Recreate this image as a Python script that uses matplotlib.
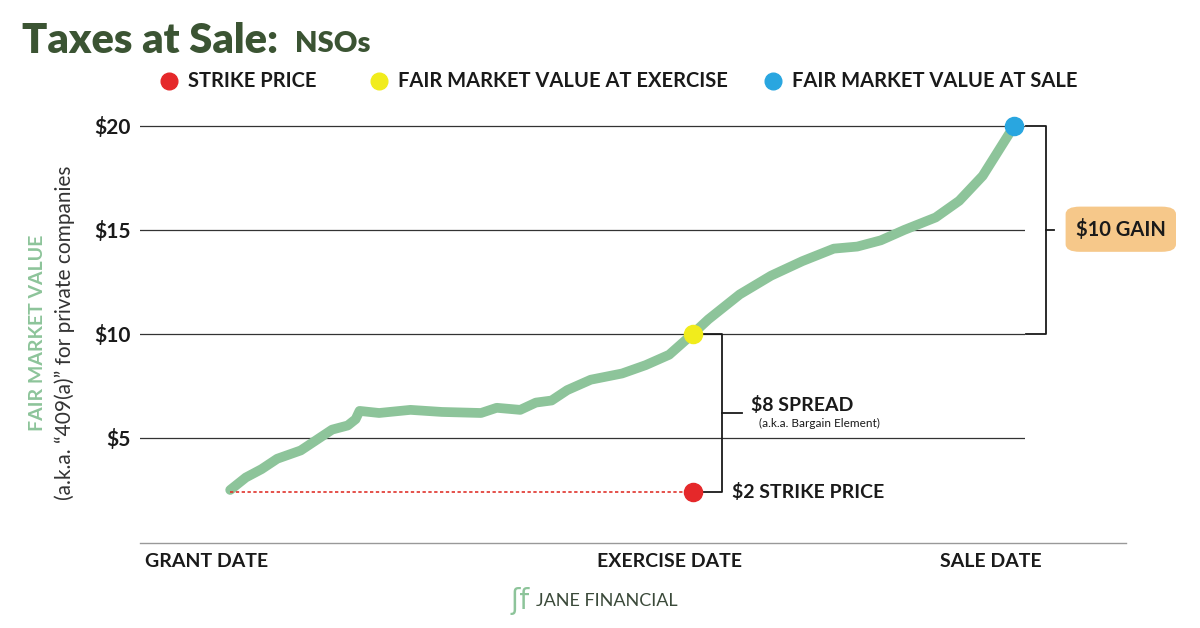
import matplotlib
matplotlib.use('Agg')
import matplotlib.pyplot as plt
from matplotlib.patches import FancyBboxPatch
from matplotlib.lines import Line2D

# timeline: 0 = grant date, 59 = exercise date, 100 = sale date
days = [0, 2, 4, 6, 9, 11, 13, 15, 16, 16.5, 19, 23, 27, 32, 34, 37, 39, 41, 43, 46, 50, 53, 56, 59,
        61, 65, 69, 73, 77, 80, 83, 86, 90, 93, 96, 100]
fmv = [2.5, 3.1, 3.5, 4.0, 4.4, 4.9, 5.4, 5.6, 5.9, 6.3, 6.2, 6.35, 6.25, 6.2, 6.45, 6.35, 6.7, 6.8,
       7.3, 7.8, 8.1, 8.5, 9.0, 10.0, 10.7, 11.9, 12.8, 13.5, 14.1, 14.2, 14.5, 15.0, 15.6, 16.4, 17.6, 20.0]
strike = 2.4
ex_day, sale_day = 59, 100
yticks = [5, 10, 15, 20]
ytick_labels = ['$5', '$10', '$15', '$20']
xticks = [0, 59, 100]
xtick_labels = ['GRANT DATE', 'EXERCISE DATE', 'SALE DATE']

FONT = 'Lato'
DARK = '#1a1a1a'
GREEN = '#8dc49a'
TITLE_GREEN = '#3b5433'

fig = plt.figure(figsize=(12, 6.28), dpi=100)
ax = fig.add_axes([0.1167, 0.137, 0.7375, 0.689])
ax.set_xlim(-11.5, 101.4)
ax.set_ylim(0, 20.8)
for s in ax.spines.values():
    s.set_visible(False)
for y in yticks:
    ax.axhline(y, color='#333333', lw=0.9, zorder=1)
ax.set_yticks(yticks)
ax.set_yticklabels(ytick_labels, fontsize=15, fontweight='bold', fontfamily=FONT, color=DARK)
ax.set_xticks([])
ax.tick_params(axis='y', length=0, pad=7)

ax.plot(days, fmv, color=GREEN, lw=7, solid_capstyle='round', solid_joinstyle='round', zorder=2)
ax.plot([0, ex_day], [strike, strike], color='#e0342c', lw=1.2, ls=(0, (2, 1.5)), zorder=2)
ax.scatter([ex_day], [strike], s=170, color='#e5282a', zorder=4)
ax.scatter([ex_day], [10], s=170, color='#f1ec1c', zorder=4)
ax.scatter([sale_day], [20], s=170, color='#29a6e0', zorder=4)

for x, lab in zip(xticks, xtick_labels):
    ax.text(x - 3, -0.95, lab, ha='center', va='center', fontsize=14, fontweight='bold',
            fontfamily=FONT, color=DARK)

# spread bracket
bx = 62.7
ax.plot([60.2, bx, bx, 60.2], [10, 10, strike, strike], color=DARK, lw=1.3, zorder=3)
ax.plot([bx, 65.3], [6.2, 6.2], color=DARK, lw=1.3)
ax.text(66.4, 6.6, '$8 SPREAD', fontsize=14, fontweight='bold', fontfamily=FONT, color=DARK, va='center')
ax.text(67.5, 5.7, '(a.k.a. Bargain Element)', fontsize=8.5, fontfamily=FONT, color=DARK, va='center')
ax.text(64, strike, '$2 STRIKE PRICE', fontsize=14, fontweight='bold', fontfamily=FONT, color=DARK, va='center')

# gain bracket
gx = 104.1
ax.plot([101.5, gx, gx, 101.5], [20, 20, 10, 10], color=DARK, lw=1.3, clip_on=False)
ax.plot([gx, 105.1], [15, 15], color=DARK, lw=1.3, clip_on=False)
box = FancyBboxPatch((0.888, 0.599), 0.092, 0.072, boxstyle='round,pad=0,rounding_size=0.012',
                     transform=fig.transFigure, facecolor='#f6c88a', edgecolor='none')
fig.patches.append(box)
fig.text(0.934, 0.635, '$10 GAIN', ha='center', va='center', fontsize=14.5, fontweight='bold',
         fontfamily=FONT, color=DARK)

# bottom axis line
fig.add_artist(Line2D([0.1167, 0.938], [0.135, 0.135], color='#999999', lw=1))

# y label
fig.text(0.031, 0.47, 'FAIR MARKET VALUE', rotation=90, ha='center', va='center', fontsize=14,
         fontweight='bold', fontfamily=FONT, color=GREEN)
fig.text(0.054, 0.47, '(a.k.a. \u201c409(a)\u201d for private companies', rotation=90, ha='center',
         va='center', fontsize=15, fontfamily=FONT, color='#333333')

# title and legend
fig.text(0.018, 0.935, 'Taxes at Sale:', fontsize=30, fontweight='black', fontfamily=FONT,
         color=TITLE_GREEN, va='center')
fig.text(0.246, 0.93, 'NSOs', fontsize=21, fontweight='black', fontfamily=FONT,
         color=TITLE_GREEN, va='center')
legend = [(0.141, '#e5282a', 'STRIKE PRICE'), (0.316, '#f1ec1c', 'FAIR MARKET VALUE AT EXERCISE'),
          (0.644, '#29a6e0', 'FAIR MARKET VALUE AT SALE')]
for x, c, lab in legend:
    fig.add_artist(Line2D([x], [0.871], marker='o', markersize=12, color=c, transform=fig.transFigure))
    fig.text(x + 0.016, 0.871, lab, fontsize=14.5, fontweight='bold', fontfamily=FONT, color=DARK, va='center')

fig.text(0.447, 0.043, 'JANE FINANCIAL', fontsize=13, fontfamily=FONT, color='#3b4a3a', va='center')
fig.text(0.433, 0.043, '\u0283f', fontsize=20, fontfamily='DejaVu Sans', color=GREEN, va='center', ha='center')

fig.savefig('out.png', dpi=100)
